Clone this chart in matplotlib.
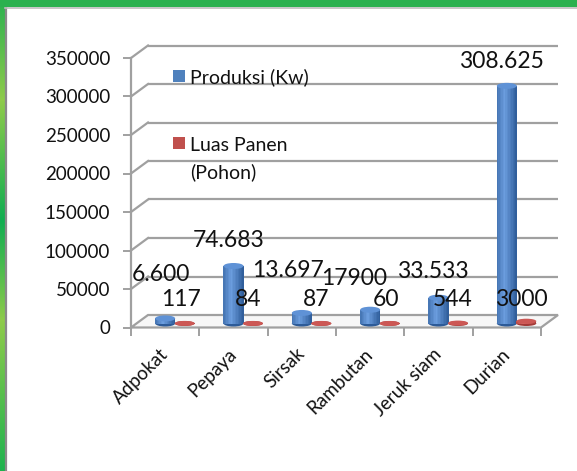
import numpy as np
import matplotlib
matplotlib.use("Agg")
import matplotlib.pyplot as plt
from matplotlib.patches import Ellipse, Polygon, Rectangle
from matplotlib.colors import to_rgb

plt.rcParams['font.family'] = ['Lato', 'DejaVu Sans']

# ---------------- data ----------------
categories = ["Adpokat", "Pepaya", "Sirsak", "Rambutan", "Jeruk siam", "Durian"]
produksi = [6600, 74683, 13697, 17900, 33533, 308625]
luas_panen = [117, 84, 87, 60, 544, 3000]
produksi_labels = ["6.600", "74.683", "13.697", "17900", "33.533", "308.625"]
luas_labels = ["117", "84", "87", "60", "544", "3000"]
yticks = [0, 50000, 100000, 150000, 200000, 250000, 300000, 350000]
series_names = ["Produksi (Kw)", "Luas Panen\n(Pohon)"]

# ---------------- layout (pixels) ----------------
W, H = 577, 471
fig = plt.figure(figsize=(W / 100, H / 100), dpi=100)
fig.patch.set_facecolor("white")

def fx(px):
    return px / W

def fy(py):
    return 1 - py / H

ax_l, ax_r, ax_t, ax_b = 131, 541, 58, 327.5
ax = fig.add_axes([fx(ax_l), fy(ax_b), (ax_r - ax_l) / W, (ax_b - ax_t) / H])
ax.set_xlim(-0.5, 5.5)
ax.set_ylim(0, 350000)
ax.patch.set_visible(False)

px_x = (ax_r - ax_l) / 6.0          # pixels per category
px_y = (ax_b - ax_t) / 350000.0     # pixels per unit
DX = 17 / px_x                      # depth offset in data units
DY = 12.5 / px_y
GRID = "#a0a0a0"

# back wall gridlines + side-wall diagonals
for v in yticks[1:]:
    ax.plot([-0.5 + DX, 5.5 + DX], [v + DY, v + DY], color=GRID, lw=1.6,
            clip_on=False, zorder=1, solid_capstyle="butt")
    ax.plot([-0.5, -0.5 + DX], [v, v + DY], color=GRID, lw=1.6,
            clip_on=False, zorder=1)

# floor
floor = Polygon([(-0.5, 0), (5.5, 0), (5.5 + DX, DY), (-0.5 + DX, DY)],
                closed=True, facecolor="#f7f7f7", edgecolor=GRID, lw=1.6,
                clip_on=False, zorder=2)
ax.add_patch(floor)

# ---------------- cylinders ----------------
BASE = 4 / px_y
BW = 20 / px_x
x = np.arange(len(categories))

def cylinder(xc, vals, light_col, dark_col, cap_col, eh_px, zo):
    n = 14
    ts = (np.arange(n) + 0.5) / n
    dark = np.array(to_rgb(dark_col))
    light = np.array(to_rgb(light_col))
    for k, t in enumerate(ts):
        if t < 0.38:
            f = 0.35 + 0.65 * (t / 0.38)
        else:
            f = 1.0 - (t - 0.38) / 0.62
        f = max(0.0, min(1.0, f))
        col = dark + (light - dark) * f
        ax.bar(xc - BW / 2 + (k + 0.5) * BW / n, vals, width=BW / n * 1.02,
               bottom=BASE, color=col, lw=0, zorder=zo, clip_on=False)
    eh = eh_px / px_y
    for xi, v in zip(xc, vals):
        ax.add_patch(Ellipse((xi, BASE), BW, eh, facecolor=dark_col,
                             lw=0, zorder=zo - 0.5, clip_on=False))
        ax.add_patch(Ellipse((xi, BASE + v), BW, eh, facecolor=cap_col,
                             lw=0, zorder=zo + 0.5, clip_on=False))

cylinder(x + 0.0, produksi, "#6c9edf", "#2d5b98", "#5f92d6", 6, 4)
cylinder(x + 0.285, luas_panen, "#dc6a66", "#a33a37", "#cc5855", 5, 4)

# ---------------- axes styling ----------------
for s in ["top", "right", "bottom"]:
    ax.spines[s].set_visible(False)
ax.spines["left"].set_color(GRID)
ax.spines["left"].set_linewidth(1.6)

ax.set_yticks(yticks)
ax.set_yticklabels([str(v) for v in yticks])
ax.tick_params(axis="y", direction="out", length=6, width=1.4, color=GRID,
               labelsize=13.5, pad=9, labelcolor="#111111")

ax.set_xticks(x)
ax.set_xticklabels(categories, rotation=45, ha="right", va="center",
                   rotation_mode="anchor")
ax.set_xticks(np.arange(-0.5, 6, 1.0), minor=True)
ax.tick_params(axis="x", which="major", length=0, labelsize=13.5, pad=17,
               labelcolor="#111111")
ax.tick_params(axis="x", which="minor", direction="out", length=6, width=1.4,
               color=GRID)

# ---------------- data labels ----------------
prod_dx = [-0.06, -0.07, -0.20, -0.24, -0.08, -0.085]
prod_dy = [50, 31, 48, 37, 32, 30]
luas_dx = [0.23, 0.21, 0.21, 0.23, 0.21, 0.21]
luas_dy = [30, 30, 30, 30, 30, 28]
for i in range(len(categories)):
    ax.annotate(produksi_labels[i], xy=(i + prod_dx[i], produksi[i]),
                xytext=(0, prod_dy[i]), textcoords="offset pixels",
                ha="center", va="center_baseline", fontsize=16.5,
                color="#111111", zorder=10, annotation_clip=False)
    ax.annotate(luas_labels[i], xy=(i + luas_dx[i], luas_panen[i]),
                xytext=(0, luas_dy[i]), textcoords="offset pixels",
                ha="center", va="center_baseline", fontsize=16.5,
                color="#111111", zorder=10, annotation_clip=False)

# ---------------- legend ----------------
leg_colors = ["#4f81bd", "#c0504d"]
leg_sq_y = [70, 137]
for c, yy in zip(leg_colors, leg_sq_y):
    fig.patches.append(Rectangle((fx(173), fy(yy + 12)), 12 / W, 12 / H,
                                 transform=fig.transFigure, facecolor=c,
                                 edgecolor="none"))
name_lines = [series_names[0]] + series_names[1].split("\n")
name_y = [76, 144, 171]
for txt, yy in zip(name_lines, name_y):
    fig.text(fx(190), fy(yy), txt, fontsize=14, va="center_baseline",
             ha="left", color="#111111")

# ---------------- green frame ----------------
stops_y = [0, 100, 220, 320, 471]
stops_c = ["#2bb14f", "#8ecb4a", "#0fad50", "#8ecb4a", "#1db24e"]
rgb = np.array([to_rgb(c) for c in stops_c])
yy = np.arange(H)
grad = np.stack([np.interp(yy, stops_y, rgb[:, k]) for k in range(3)], axis=1)
gax = fig.add_axes([0, 0, 5 / W, 1])
gax.imshow(grad[:, None, :], aspect="auto", extent=(0, 1, 0, 1), origin="upper")
gax.set_axis_off()

fig.patches.append(Rectangle((0, fy(7)), 1, 7 / H, transform=fig.transFigure,
                             facecolor="#2bb14f", edgecolor="none", zorder=5))
fig.lines.append(plt.Line2D([fx(6), fx(6)], [0, fy(7)], transform=fig.transFigure,
                            color="#8a8a8a", lw=1.6))
fig.lines.append(plt.Line2D([fx(5), 1], [fy(8), fy(8)], transform=fig.transFigure,
                            color="#bdbdbd", lw=1.2))

fig.savefig("out.png", dpi=100)
